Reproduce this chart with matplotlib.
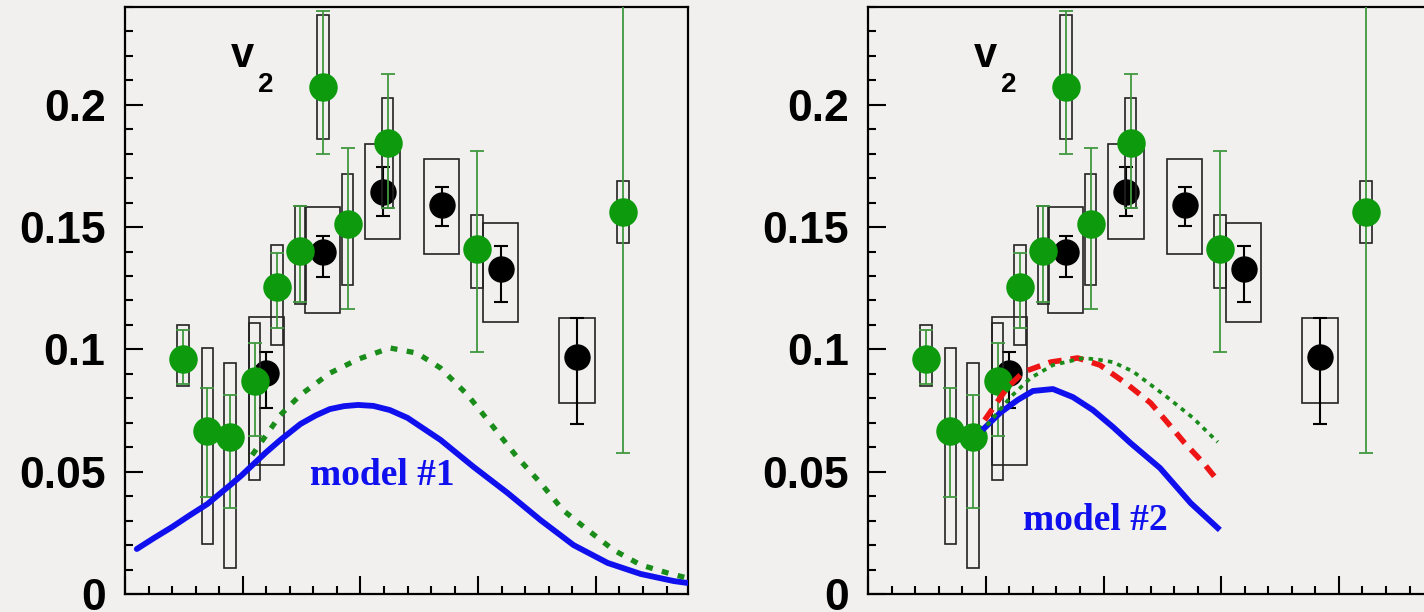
import matplotlib.pyplot as plt
from matplotlib.ticker import MultipleLocator, NullFormatter
import numpy as np

# green data points (pT, v2, stat band, syst box)
g_x = [0.49, 0.70, 0.89, 1.10, 1.29, 1.49, 1.68, 1.89, 2.23, 2.99, 4.23]
g_y = [0.096, 0.0667, 0.0642, 0.0871, 0.1255, 0.1402, 0.2073, 0.1513, 0.1842, 0.141, 0.1561]
g_stat_lo = [0.086, 0.0397, 0.0352, 0.0646, 0.1087, 0.1194, 0.180, 0.1165, 0.158, 0.0989, 0.0576]
g_stat_hi = [0.108, 0.0843, 0.0814, 0.1026, 0.1394, 0.1586, 0.2383, 0.1823, 0.2125, 0.1811, 0.2546]
g_sys_lo = [0.085, 0.0204, 0.0106, 0.0466, 0.1018, 0.1186, 0.186, 0.1263, 0.1578, 0.125, 0.1435]
g_sys_hi = [0.110, 0.1006, 0.0945, 0.1108, 0.1427, 0.1586, 0.2367, 0.1717, 0.2028, 0.155, 0.1688]

# black data points
b_x = [1.20, 1.68, 2.19, 2.69, 3.19, 3.84]
b_y = [0.0903, 0.1398, 0.1645, 0.159, 0.1329, 0.0969]
b_stat_lo = [0.076, 0.1296, 0.1545, 0.1504, 0.1194, 0.0695]
b_stat_hi = [0.099, 0.1464, 0.1745, 0.1663, 0.1423, 0.1128]
b_sys_lo = [0.0527, 0.1149, 0.145, 0.139, 0.1112, 0.0781]
b_sys_hi = [0.1132, 0.1582, 0.184, 0.1777, 0.1517, 0.1128]

# model #1
m1_x = [0.10, 0.25, 0.40, 0.55, 0.70, 0.80, 0.90, 0.99, 1.10, 1.20, 1.32, 1.49, 1.62, 1.74,
        1.86, 1.98, 2.11, 2.25, 2.40, 2.68, 2.96, 3.25, 3.53, 3.81, 4.10, 4.38, 4.66, 4.78]
m1_y = [0.0184, 0.0230, 0.0274, 0.0322, 0.0368, 0.0408, 0.0448, 0.0485, 0.0535, 0.0580, 0.0630,
        0.0695, 0.0730, 0.0756, 0.0768, 0.0773, 0.0769, 0.0752, 0.0720, 0.0630, 0.0520, 0.0413,
        0.0302, 0.0200, 0.0127, 0.0082, 0.0053, 0.0045]
m1g_x = [1.08, 1.32, 1.49, 1.74, 1.98, 2.25, 2.48, 2.68, 2.91, 3.10, 3.33, 3.53, 3.72, 3.93,
         4.15, 4.38, 4.61, 4.78]
m1g_y = [0.0568, 0.0732, 0.0814, 0.0903, 0.096, 0.1006, 0.0985, 0.0924, 0.0814, 0.070, 0.056,
         0.0454, 0.0343, 0.0262, 0.018, 0.0119, 0.0086, 0.0065]

# model #2
m2_x = [0.99, 1.12, 1.27, 1.40, 1.57, 1.74, 1.91, 2.08, 2.23, 2.48, 2.74, 2.97]
m2_y = [0.0679, 0.074, 0.0793, 0.083, 0.0838, 0.0805, 0.0752, 0.0683, 0.0617, 0.0515, 0.0372, 0.027]
m2r_x = [0.99, 1.18, 1.32, 1.55, 1.78, 1.97, 2.20, 2.40, 2.54, 2.69, 2.85, 2.98]
m2r_y = [0.0711, 0.0842, 0.0908, 0.0948, 0.0965, 0.0936, 0.0858, 0.0781, 0.0703, 0.0617, 0.0535, 0.0458]
m2g_x = [1.01, 1.21, 1.38, 1.57, 1.83, 1.97, 2.08, 2.25, 2.54, 2.76, 2.97]
m2g_y = [0.069, 0.0805, 0.0883, 0.0936, 0.0965, 0.0957, 0.0948, 0.0910, 0.0805, 0.072, 0.0621]

BG = '#f1f0ef'
GREEN = '#0d9a0d'
BLUE = '#1010ee'

fig = plt.figure(figsize=(14.24, 6.12), dpi=100, facecolor=BG)
ax1 = fig.add_axes([0.0878, 0.0294, 0.3954, 0.9592])
ax2 = fig.add_axes([0.6096, 0.0294, 0.3954, 0.9592])


def draw_panel(ax):
    ax.set_facecolor(BG)
    # black: boxes, stat errors, markers
    bx = np.array(b_x); by = np.array(b_y)
    ax.bar(bx, np.array(b_sys_hi) - np.array(b_sys_lo), bottom=b_sys_lo, width=0.30,
           fill=False, edgecolor='#222222', linewidth=1.2, zorder=2)
    ax.errorbar(bx, by, yerr=[by - np.array(b_stat_lo), np.array(b_stat_hi) - by], fmt='o',
                color='black', ms=18, elinewidth=1.5, capsize=5, capthick=1.5, zorder=3)
    # green
    gx = np.array(g_x); gy = np.array(g_y)
    ax.bar(gx, np.array(g_sys_hi) - np.array(g_sys_lo), bottom=g_sys_lo, width=0.10,
           fill=False, edgecolor='#222222', linewidth=1.2, zorder=4)
    ax.errorbar(gx, gy, yerr=[gy - np.array(g_stat_lo), np.array(g_stat_hi) - gy], fmt='o',
                color=GREEN, ecolor='#3f983f', ms=19.5, elinewidth=1.3, capsize=5,
                capthick=1.3, zorder=5)

    ax.set_xlim(0, 4.783)
    ax.set_ylim(0, 0.24)
    ax.xaxis.set_major_locator(MultipleLocator(1))
    ax.xaxis.set_minor_locator(MultipleLocator(0.2))
    ax.yaxis.set_major_locator(MultipleLocator(0.05))
    ax.yaxis.set_minor_locator(MultipleLocator(0.01))
    ax.xaxis.set_major_formatter(NullFormatter())
    ax.set_yticks([0, 0.05, 0.1, 0.15, 0.2])
    ax.set_yticklabels(['0', '0.05', '0.1', '0.15', '0.2'])
    ax.tick_params(which='both', direction='in', width=1.5, top=False, right=False)
    ax.tick_params(which='major', length=13, pad=14)
    ax.tick_params(which='minor', length=6)
    for lab in ax.get_yticklabels():
        lab.set_fontfamily('Liberation Sans')
        lab.set_fontweight('bold')
        lab.set_fontsize(32)
    for sp in ax.spines.values():
        sp.set_linewidth(1.6)

    ax.text(0.90, 0.2155, 'v', fontsize=30, fontweight='bold', family='Liberation Sans')
    ax.text(1.13, 0.2052, '2', fontsize=20, fontweight='bold', family='Liberation Sans')


draw_panel(ax1)
draw_panel(ax2)

# left panel: model #1
ax1.plot(m1_x, m1_y, color=BLUE, lw=4.2, solid_capstyle='round', solid_joinstyle='round', zorder=6)
ax1.plot(m1g_x, m1g_y, color='#1a8c1a', lw=3.8, linestyle=(0, (1.3, 1.8)), zorder=6)
ax1.text(1.57, 0.0446, 'model #1', color=BLUE, fontsize=27, fontweight='bold',
         family='Liberation Serif', zorder=7)

# right panel: model #2
ax2.plot(m2_x, m2_y, color=BLUE, lw=4.2, solid_joinstyle='round', zorder=6)
ax2.plot(m2r_x, m2r_y, color='#ee1515', lw=4, linestyle=(0, (2.4, 1.6)), zorder=6)
ax2.plot(m2g_x, m2g_y, color='#1a8c1a', lw=2.7, linestyle=(0, (1.2, 1.4)), zorder=6)
ax2.text(1.32, 0.0262, 'model #2', color=BLUE, fontsize=27, fontweight='bold',
         family='Liberation Serif', zorder=7)

fig.savefig('out.png', dpi=100, facecolor=BG)
